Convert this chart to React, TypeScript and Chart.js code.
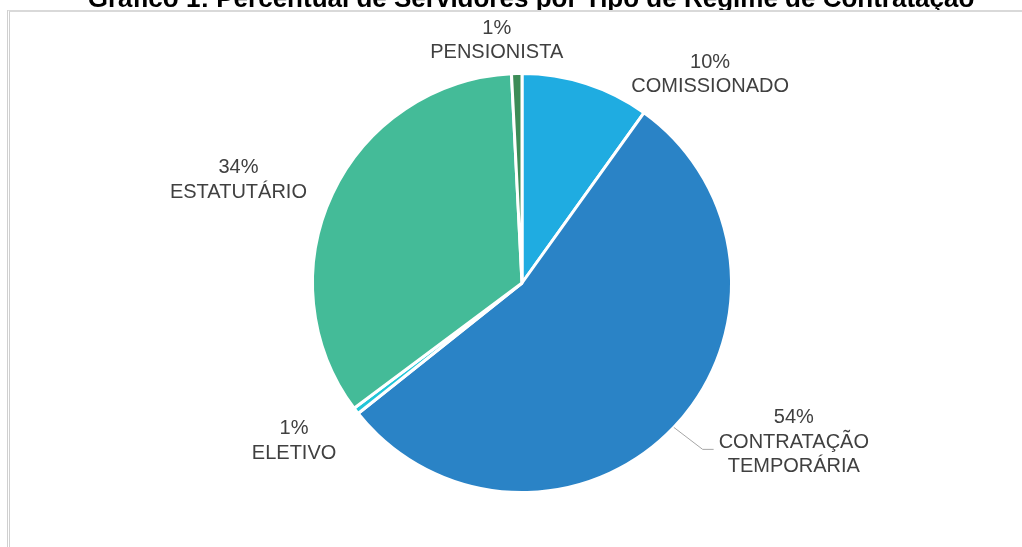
import { useEffect, useRef } from "react";
import { Chart, registerables } from "chart.js";

Chart.register(...registerables);

const TITLE = "Gráfico 1: Percentual de Servidores por Tipo de Regime de Contratação";
const categories = ["COMISSIONADO", "CONTRATAÇÃO TEMPORÁRIA", "ELETIVO", "ESTATUTÁRIO", "PENSIONISTA"];
const percentages = [9.9, 54.4, 0.5, 34.4, 0.8];
const sliceColors = ["#1FACE1", "#2A83C6", "#21C5D8", "#44BB98", "#3C8C57"];

// label placement relative to the slice's outer edge at its mid-angle (layout only)
const labelOffsets = [
  { dx: 124, dy: -9 },
  { dx: 120, dy: 15 },
  { dx: -62, dy: 30 },
  { dx: -94, dy: -14 },
  { dx: -20, dy: -33 },
];
const hasLeader = [false, true, false, false, false];

const LABEL_FONT = "20px 'Liberation Sans', Arial, sans-serif";
const TITLE_FONT = "bold 26px 'Liberation Sans', Arial, sans-serif";
const LINE_H = 24.5;

function wrapText(ctx: CanvasRenderingContext2D, text: string, maxW: number): string[] {
  const words = text.split(" ");
  const lines: string[] = [];
  let cur = "";
  for (const w of words) {
    const t = cur ? cur + " " + w : w;
    if (cur && ctx.measureText(t).width > maxW) {
      lines.push(cur);
      cur = w;
    } else cur = t;
  }
  if (cur) lines.push(cur);
  return lines;
}

const labelPlugin = {
  id: "sliceLabels",
  afterDatasetsDraw(chart: any) {
    const ctx: CanvasRenderingContext2D = chart.ctx;
    const meta = chart.getDatasetMeta(0);
    ctx.save();
    ctx.font = LABEL_FONT;
    ctx.fillStyle = "#404040";
    ctx.textAlign = "center";
    ctx.textBaseline = "middle";
    meta.data.forEach((arc: any, i: number) => {
      const p = arc.getProps(["x", "y", "startAngle", "endAngle", "outerRadius"], true);
      const mid = (p.startAngle + p.endAngle) / 2;
      const ex = p.x + Math.cos(mid) * p.outerRadius;
      const ey = p.y + Math.sin(mid) * p.outerRadius;
      const cx = ex + labelOffsets[i].dx;
      const cy = ey + labelOffsets[i].dy;
      const pct = Math.round(percentages[i]) + "%";
      const lines = [pct, ...wrapText(ctx, categories[i], 175)];
      const top = cy - ((lines.length - 1) * LINE_H) / 2;
      let maxW = 0;
      lines.forEach((t, k) => {
        ctx.fillText(t, cx, top + k * LINE_H);
        maxW = Math.max(maxW, ctx.measureText(t).width);
      });
      if (hasLeader[i]) {
        const endX = cx - maxW / 2 - 5;
        const elbowX = endX - 11;
        const ly = cy + 7;
        ctx.beginPath();
        ctx.strokeStyle = "#A6A6A6";
        ctx.lineWidth = 1;
        ctx.moveTo(ex, ey);
        ctx.lineTo(elbowX, ly);
        ctx.lineTo(endX, ly);
        ctx.stroke();
      }
    });
    ctx.restore();
  },
};

const titlePlugin = {
  id: "clippedTitle",
  afterDraw(chart: any) {
    const ctx: CanvasRenderingContext2D = chart.ctx;
    ctx.save();
    ctx.beginPath();
    ctx.rect(0, 0, chart.width, 10);
    ctx.clip();
    ctx.font = TITLE_FONT;
    ctx.fillStyle = "#000000";
    ctx.textAlign = "center";
    ctx.textBaseline = "alphabetic";
    ctx.fillText(TITLE, 531, 7);
    ctx.restore();
  },
};

export default function App() {
  const canvasRef = useRef<HTMLCanvasElement | null>(null);

  useEffect(() => {
    if (!canvasRef.current) return;
    const chart = new Chart(canvasRef.current, {
      type: "pie",
      data: {
        labels: categories,
        datasets: [
          {
            data: percentages,
            backgroundColor: sliceColors,
            borderColor: "#FFFFFF",
            borderWidth: 3,
          },
        ],
      },
      options: {
        responsive: true,
        maintainAspectRatio: false,
        animation: false,
        layout: { padding: { top: 72, bottom: 53, left: 22, right: 0 } },
        plugins: {
          legend: { display: false },
          tooltip: { enabled: false },
          title: { display: false },
        },
      },
      plugins: [labelPlugin, titlePlugin],
    });
    return () => chart.destroy();
  }, []);

  return (
    <div
      style={{
        position: "fixed",
        left: 0,
        top: 0,
        width: 1022,
        height: 547,
        overflow: "hidden",
        background: "#FFFFFF",
      }}
    >
      <div style={{ position: "absolute", left: 0, top: 0, width: 1022, height: 547 }}>
        <canvas ref={canvasRef} />
      </div>
      <div
        style={{
          position: "absolute",
          left: 7,
          top: 10,
          width: 1100,
          height: 700,
          boxSizing: "border-box",
          borderTop: "2px solid #D9D9D9",
          borderLeft: "3px double #D0D0D0",
          pointerEvents: "none",
        }}
      />
    </div>
  );
}
